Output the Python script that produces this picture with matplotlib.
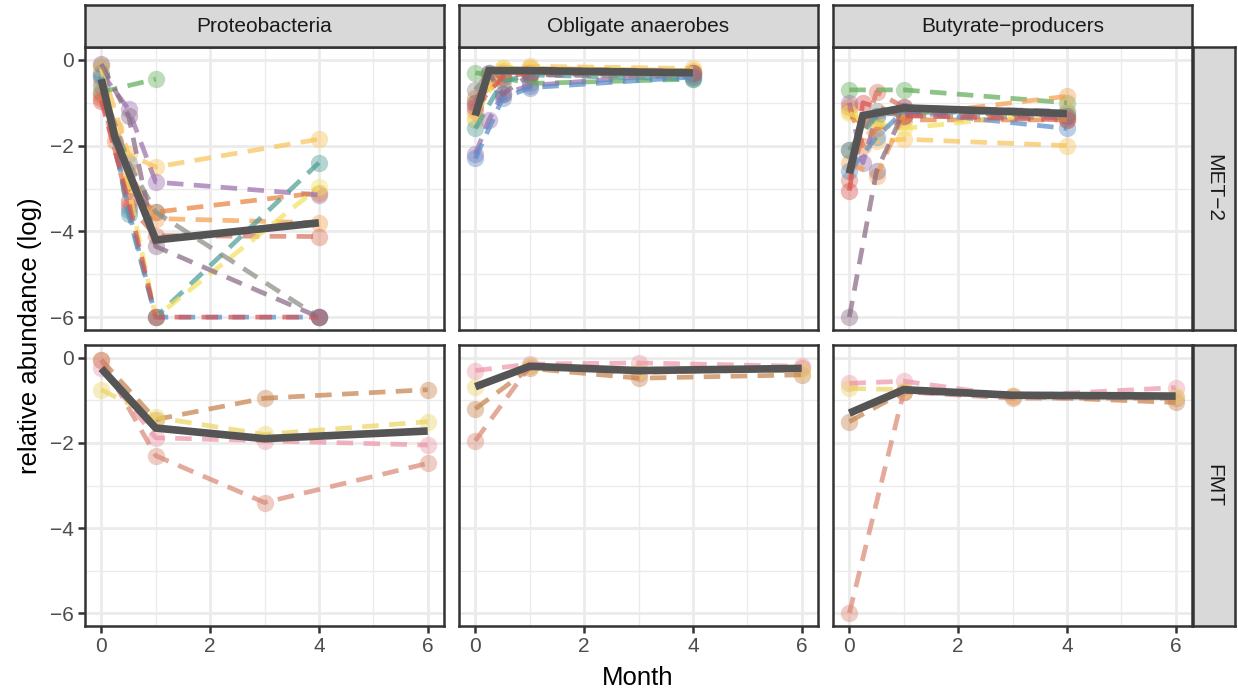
import numpy as np
import matplotlib.pyplot as plt

plt.rcParams['font.family'] = ['Liberation Sans', 'DejaVu Sans']

W, H = 1238, 692

taxa = ["Proteobacteria", "Obligate anaerobes", "Butyrate\u2212producers"]
groups = ["MET\u22122", "FMT"]

# patient colours
met2_colors = {
    "A": "#63AD5B", "B": "#F9C45A", "C": "#9C6FAE", "D": "#F4A04F",
    "E": "#E8823F", "F": "#D8745F", "G": "#4E9E98", "H": "#F3E15E",
    "I": "#8D8D84", "J": "#5A8DCA", "K": "#D9534F", "L": "#8A6A84",
}
fmt_colors = {"M": "#C6834E", "N": "#DA8976", "O": "#EC97A8", "P": "#ECD462"}

# MET-2, Proteobacteria: patient -> (month, log abundance)
met2_proteo = {
    "A": ([0, 1], [-0.75, -0.45]),
    "B": ([0, 0.5, 1, 4], [-0.15, -2.2, -2.5, -1.85]),
    "C": ([0, 0.5, 1, 4], [-0.3, -1.15, -2.85, -3.15]),
    "D": ([0, 0.25, 0.5, 1, 4], [-0.5, -1.6, -2.6, -3.7, -3.8]),
    "E": ([0, 0.25, 0.5, 1, 4], [-0.9, -1.9, -3.0, -3.55, -3.1]),
    "F": ([0, 0.5, 1, 4], [-0.8, -3.4, -4.1, -4.12]),
    "G": ([0, 0.5, 1, 4], [-0.35, -3.6, -6, -2.4]),
    "H": ([0, 0.5, 1, 4], [-0.2, -3.0, -6, -2.97]),
    "I": ([0, 0.5, 1, 4], [-0.6, -2.4, -3.55, -6]),
    "J": ([0, 0.5, 1, 4], [-0.4, -3.5, -6, -6]),
    "K": ([0, 0.5, 1, 4], [-0.95, -3.3, -6, -6]),
    "L": ([0, 0.5, 1, 4], [-0.1, -1.3, -4.35, -6]),
}
met2_proteo_mean = ([0, 0.25, 1, 4], [-0.45, -1.8, -4.2, -3.8])

met2_anaer = {
    "A": ([0, 0.25, 1, 4], [-0.3, -0.35, -0.55, -0.45]),
    "B": ([0, 0.25, 0.5, 1, 4], [-1.4, -0.5, -0.2, -0.15, -0.2]),
    "C": ([0, 0.25, 0.5, 1, 4], [-2.2, -1.4, -0.8, -0.6, -0.3]),
    "D": ([0, 0.25, 0.5, 1, 4], [-1.0, -0.4, -0.25, -0.2, -0.25]),
    "E": ([0, 0.5, 1, 4], [-0.9, -0.45, -0.3, -0.3]),
    "F": ([0, 0.5, 1, 4], [-1.2, -0.3, -0.3, -0.35]),
    "G": ([0, 0.5, 1, 4], [-1.6, -0.5, -0.35, -0.45]),
    "H": ([0, 0.5, 1, 4], [-1.3, -0.2, -0.2, -0.25]),
    "I": ([0, 0.25, 1, 4], [-0.7, -0.3, -0.35, -0.4]),
    "J": ([0, 0.5, 1, 4], [-2.3, -0.9, -0.65, -0.4]),
    "K": ([0, 0.5, 1, 4], [-1.1, -0.4, -0.3, -0.3]),
    "L": ([0, 0.25, 0.5, 1, 4], [-1.0, -0.3, -0.8, -0.35, -0.3]),
}
met2_anaer_mean = ([0, 0.25, 1, 4], [-1.3, -0.25, -0.25, -0.3])

met2_butyr = {
    "A": ([0, 1, 4], [-0.7, -0.7, -1.0]),
    "B": ([0, 0.5, 1, 4], [-1.2, -1.9, -1.85, -2.0]),
    "C": ([0, 0.25, 0.5, 1, 4], [-1.0, -2.4, -1.3, -1.1, -1.2]),
    "D": ([0, 0.5, 1, 4], [-2.4, -2.7, -1.3, -0.85]),
    "E": ([0, 0.25, 0.5, 1, 4], [-1.1, -2.0, -1.6, -1.4, -1.4]),
    "F": ([0, 0.5, 1, 4], [-2.8, -0.75, -1.1, -1.3]),
    "G": ([0, 0.5, 1, 4], [-2.1, -1.3, -1.2, -1.25]),
    "H": ([0, 0.5, 1, 4], [-1.25, -1.5, -1.6, -1.2]),
    "I": ([0, 0.5, 1, 4], [-2.1, -1.2, -1.3, -1.35]),
    "J": ([0, 0.5, 1, 4], [-2.6, -1.8, -1.2, -1.6]),
    "K": ([0, 0.25, 1, 4], [-3.05, -1.0, -1.3, -1.4]),
    "L": ([0, 0.5, 1, 4], [-6, -2.6, -1.2, -1.3]),
}
met2_butyr_mean = ([0, 0.25, 1, 4], [-2.65, -1.3, -1.12, -1.25])

fmt_months = [0, 1, 3, 6]
fmt_proteo = {
    "M": (fmt_months, [-0.05, -1.45, -0.95, -0.75]),
    "N": (fmt_months, [-0.05, -2.3, -3.4, -2.48]),
    "O": (fmt_months, [-0.25, -1.88, -1.95, -2.05]),
    "P": (fmt_months, [-0.75, -1.4, -1.8, -1.5]),
}
fmt_proteo_mean = (fmt_months, [-0.25, -1.65, -1.9, -1.72])

fmt_anaer = {
    "M": (fmt_months, [-1.2, -0.25, -0.48, -0.4]),
    "N": (fmt_months, [-1.95, -0.2, -0.35, -0.25]),
    "O": (fmt_months, [-0.3, -0.15, -0.12, -0.2]),
    "P": (fmt_months, [-0.68, -0.2, -0.3, -0.3]),
}
fmt_anaer_mean = (fmt_months, [-0.68, -0.2, -0.3, -0.25])

fmt_butyr = {
    "M": (fmt_months, [-1.5, -0.8, -0.9, -1.05]),
    "N": (fmt_months, [-6, -0.8, -0.95, -0.95]),
    "O": (fmt_months, [-0.6, -0.55, -0.9, -0.7]),
    "P": (fmt_months, [-0.72, -0.75, -0.9, -0.9]),
}
fmt_butyr_mean = (fmt_months, [-1.3, -0.75, -0.88, -0.9])

panels = [
    [(met2_proteo, met2_proteo_mean), (met2_anaer, met2_anaer_mean), (met2_butyr, met2_butyr_mean)],
    [(fmt_proteo, fmt_proteo_mean), (fmt_anaer, fmt_anaer_mean), (fmt_butyr, fmt_butyr_mean)],
]
row_colors = [met2_colors, fmt_colors]

BORDER = "#333333"
fig = plt.figure(figsize=(W / 100, H / 100), dpi=100)


def px_axes(x0, y0, x1, y1, **kw):
    # pixel box (top-left origin) -> figure axes
    return fig.add_axes([x0 / W, 1 - y1 / H, (x1 - x0) / W, (y1 - y0) / H], **kw)


col_x = [(85, 444), (459, 818), (833, 1192)]
row_y = [(47, 330), (345, 626)]

for r in range(2):
    for c in range(3):
        x0, x1 = col_x[c]
        y0, y1 = row_y[r]
        ax = px_axes(x0, y0, x1, y1)
        series, (mt, mv) = panels[r][c]
        colors = row_colors[r]
        for pid, (t, v) in series.items():
            ax.plot(t, v, "o", color=colors[pid], ms=12.5, alpha=0.42, mew=0, zorder=2)
            ax.plot(t, v, color=colors[pid], lw=3.4, ls=(0, (3.5, 2.2)), alpha=0.72,
                    dash_capstyle="butt", zorder=3)
        ax.plot(mt, mv, color="#555555", lw=5.5, solid_capstyle="butt",
                solid_joinstyle="miter", zorder=5)

        ax.set_xlim(-0.3, 6.3)
        ax.set_ylim(-6.3, 0.3)
        ax.set_xticks([0, 2, 4, 6])
        ax.set_xticks([1, 3, 5], minor=True)
        ax.set_yticks([0, -2, -4, -6])
        ax.set_yticks([-1, -3, -5], minor=True)
        ax.grid(True, which="major", color="#EBEBEB", lw=2.0, zorder=0)
        ax.grid(True, which="minor", color="#EBEBEB", lw=1.0, zorder=0)
        ax.set_axisbelow(True)
        for s in ax.spines.values():
            s.set_color(BORDER)
            s.set_linewidth(1.8)
        ax.tick_params(which="minor", length=0)
        ax.tick_params(which="major", length=5, width=1.8, color=BORDER,
                       labelsize=15, labelcolor="#4D4D4D", pad=3)
        if c == 0:
            ax.set_yticklabels(["0", "\u22122", "\u22124", "\u22126"])
        else:
            ax.tick_params(axis="y", left=False, labelleft=False)
        if r == 1:
            ax.set_xticklabels(["0", "2", "4", "6"])
        else:
            ax.tick_params(axis="x", bottom=False, labelbottom=False)

# top strips
for c in range(3):
    x0, x1 = col_x[c]
    sax = px_axes(x0, 5, x1, 47, facecolor="#D9D9D9")
    sax.set_xticks([])
    sax.set_yticks([])
    for s in sax.spines.values():
        s.set_color(BORDER)
        s.set_linewidth(1.8)
    sax.text(0.5, 0.5, taxa[c], ha="center", va="center", fontsize=15,
             color="#1A1A1A", transform=sax.transAxes)

# right strips
for r in range(2):
    y0, y1 = row_y[r]
    sax = px_axes(1193, y0, 1235, y1, facecolor="#D9D9D9")
    sax.set_xticks([])
    sax.set_yticks([])
    for s in sax.spines.values():
        s.set_color(BORDER)
        s.set_linewidth(1.8)
    sax.text(0.5, 0.5, groups[r], ha="center", va="center", fontsize=15,
             color="#1A1A1A", rotation=-90, transform=sax.transAxes)

fig.text(30 / W, 1 - 336 / H, "relative abundance (log)", rotation=90,
         ha="center", va="center", fontsize=18.5, color="black")
fig.text(638 / W, 1 - 678 / H, "Month", ha="center", va="center",
         fontsize=18.5, color="black")

fig.savefig("out.png", dpi=100)
